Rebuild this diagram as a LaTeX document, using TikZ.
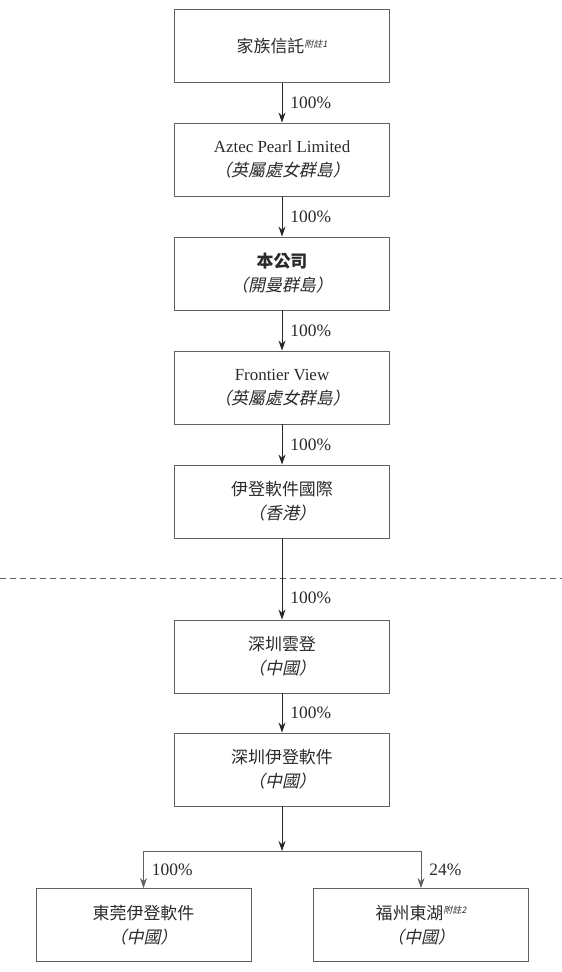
\documentclass[tikz,border=0pt]{standalone}
\usepackage{fontspec}
\setmainfont{Liberation Serif}
\newfontfamily\cjk{Noto Sans CJK TC}
\newfontfamily\cjki{Noto Sans CJK TC}[FakeSlant=0.22]
\usetikzlibrary{arrows.meta}
\definecolor{txt}{HTML}{2A2A2A}
\definecolor{bord}{HTML}{606060}
\newcommand{\fnote}[1]{\raisebox{0.7ex}{\fontsize{9}{9}\selectfont\cjki 附註\textit{#1}}}
\begin{document}
\begin{tikzpicture}[x=1bp,y=-1bp,
  entity/.style={draw=bord,line width=0.9bp,minimum width=215bp,minimum height=73bp,
    inner sep=0pt,align=center,text=txt,font=\fontsize{17}{24}\selectfont},
  conn/.style={draw=black!85,line width=0.9bp,-{Stealth[length=10bp,width=7bp]}},
  pct/.style={text=txt,font=\fontsize{17.5}{17.5}\selectfont,anchor=west,inner sep=0pt}]
\useasboundingbox (0,0) rectangle (562,972);
\node[entity] (b1) at (282,46) {{\cjk 家族信託}\fnote{1}};
\node[entity] (b2) at (282,159.5) {Aztec Pearl Limited\\{\cjki （英屬處女群島）}};
\node[entity] (b3) at (282,273.5) {{\cjk\bfseries 本公司}\\{\cjki （開曼群島）}};
\node[entity] (b4) at (282,387.5) {Frontier View\\{\cjki （英屬處女群島）}};
\node[entity] (b5) at (282,501.5) {{\cjk 伊登軟件國際}\\{\cjki （香港）}};
\node[entity] (b6) at (282,656.5) {{\cjk 深圳雲登}\\{\cjki （中國）}};
\node[entity] (b7) at (282,769.5) {{\cjk 深圳伊登軟件}\\{\cjki （中國）}};
\node[entity] (b8) at (143.5,925) {{\cjk 東莞伊登軟件}\\{\cjki （中國）}};
\node[entity] (b9) at (421,925) {{\cjk 福州東湖}\fnote{2}\\{\cjki （中國）}};
\coordinate (dl) at (0,578);
\coordinate (dr) at (562,578);
\draw[bord,line width=0.8bp,dash pattern=on 6bp off 4bp] (dl) -- (dr);
\draw[conn] (b1) -- (b2) node[pct,midway,xshift=8bp] {100\%};
\draw[conn] (b2) -- (b3) node[pct,midway,xshift=8bp] {100\%};
\draw[conn] (b3) -- (b4) node[pct,midway,xshift=8bp] {100\%};
\draw[conn] (b4) -- (b5) node[pct,midway,xshift=8bp] {100\%};
\draw[conn] (b5) -- (b6) node[pct,pos=0.73,xshift=8bp] {100\%};
\draw[conn] (b6) -- (b7) node[pct,midway,xshift=8bp] {100\%};
\coordinate (jn) at (282,851);
\coordinate (jl) at (143.5,851);
\coordinate (jr) at (421,851);
\draw[conn] (b7) -- (jn);
\draw[draw=bord,line width=0.9bp] (jl) -- (jr);
\draw[conn,draw=bord] (jl) -- (b8) node[pct,midway,xshift=8bp] {100\%};
\draw[conn,draw=bord] (jr) -- (b9) node[pct,midway,xshift=8bp] {24\%};
\end{tikzpicture}
\end{document}
